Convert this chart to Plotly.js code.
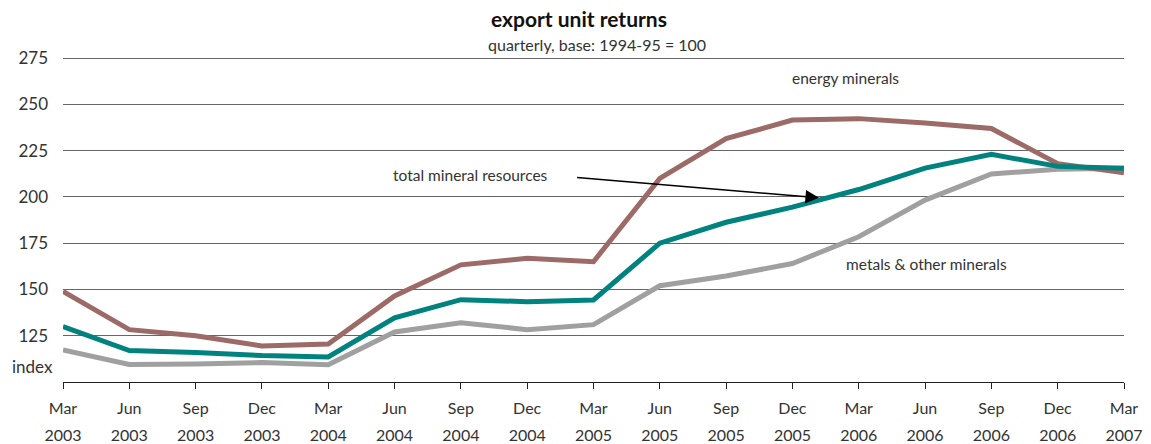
<!DOCTYPE html>
<html>
<head>
<meta charset="utf-8">
<script src="https://cdn.plot.ly/plotly-3.0.1.min.js"></script>
<style>html,body{margin:0;padding:0;background:#fff;}#chart{width:1151px;height:444px;}</style>
</head>
<body>
<div id="chart"></div>
<script>
const months = ["Mar","Jun","Sep","Dec","Mar","Jun","Sep","Dec","Mar","Jun","Sep","Dec","Mar","Jun","Sep","Dec","Mar"];
const years  = ["2003","2003","2003","2003","2004","2004","2004","2004","2005","2005","2005","2005","2006","2006","2006","2006","2007"];
const categories = months.map((m, i) => m + " " + years[i]);

const energyMinerals = [149, 128.3, 125, 119.5, 120.5, 146.5, 163.3, 166.8, 165, 210, 231.5, 241.5, 242.3, 240, 237, 218, 213];
const totalMineral   = [130, 117, 116, 114.3, 113.5, 134.7, 144.5, 143.4, 144.3, 175, 186.3, 194.5, 204, 215.6, 223, 216.5, 215.5];
const metalsOther    = [117.3, 109.5, 109.7, 110.5, 109.3, 127, 132, 128.3, 131, 152, 157.3, 164, 178.5, 198.3, 212.4, 215, 215.5];

const yTicks = [125, 150, 175, 200, 225, 250, 275];

const FONT = "Lato, 'Open Sans', sans-serif";
const TXT = "#333333";

const traces = [
  {x: categories, y: metalsOther, mode: "lines", line: {color: "#a0a0a0", width: 5}, hoverinfo: "skip"},
  {x: categories, y: energyMinerals, mode: "lines", line: {color: "#9c6a67", width: 5}, hoverinfo: "skip"},
  {x: categories, y: totalMineral, mode: "lines", line: {color: "#00827f", width: 5}, hoverinfo: "skip"},
  {x: categories, y: totalMineral, xaxis: "x2", mode: "lines", line: {width: 0, color: "rgba(0,0,0,0)"}, hoverinfo: "skip"}
];

const layout = {
  width: 1151, height: 444,
  margin: {l: 63, r: 27, t: 57, b: 62},
  paper_bgcolor: "#fff", plot_bgcolor: "#fff",
  showlegend: false,
  font: {family: FONT, color: TXT, size: 16},
  title: {text: "<b>export unit returns</b>", x: 0.503, xanchor: "center", y: 0.955, yanchor: "middle",
          font: {family: FONT, size: 21, color: "#111"}},
  xaxis: {
    type: "category", range: [0, 16],
    tickmode: "array", tickvals: categories, ticktext: months,
    ticks: "outside", ticklen: 6, tickcolor: "#222", tickwidth: 1,
    showline: true, linecolor: "#222", linewidth: 1,
    showgrid: false, zeroline: false,
    ticklabelstandoff: 6,
    tickfont: {family: FONT, size: 16, color: TXT}
  },
  xaxis2: {
    type: "category", range: [0, 16], overlaying: "x", anchor: "y", side: "bottom",
    tickmode: "array", tickvals: categories, ticktext: years,
    ticks: "", showline: false, showgrid: false, zeroline: false,
    ticklabelstandoff: 42,
    tickfont: {family: FONT, size: 16, color: TXT}
  },
  yaxis: {
    range: [100, 275.6],
    tickmode: "array", tickvals: yTicks, ticktext: yTicks.map(String),
    showgrid: true, gridcolor: "#666666", gridwidth: 1,
    zeroline: false, showline: false, ticks: "",
    ticklabelstandoff: 14,
    tickfont: {family: FONT, size: 17, color: TXT}
  },
  annotations: [
    {xref: "paper", yref: "paper", x: 0.503, y: 1.037, text: "quarterly, base: 1994-95 = 100", showarrow: false,
     xanchor: "center", yanchor: "middle", font: {family: FONT, size: 16, color: TXT}},
    {xref: "paper", yref: "y", x: -0.008, y: 108.5, text: "index", showarrow: false, xanchor: "right", yanchor: "middle",
     font: {family: FONT, size: 17, color: TXT}},
    {xref: "x", yref: "y", x: 11.8, y: 264.5, text: "energy minerals", showarrow: false, xanchor: "center", yanchor: "middle",
     font: {family: FONT, size: 15.5, color: TXT}},
    {xref: "x", yref: "y", x: 6.14, y: 212, text: "total mineral resources", showarrow: false, xanchor: "center", yanchor: "middle",
     font: {family: FONT, size: 15.5, color: TXT}},
    {xref: "x", yref: "y", x: 13.02, y: 163.8, text: "metals & other minerals", showarrow: false, xanchor: "center", yanchor: "middle",
     font: {family: FONT, size: 15.5, color: TXT}},
    {xref: "x", yref: "y", axref: "x", ayref: "y", x: 11.4, y: 199.5, ax: 7.73, ay: 210.5, text: "", showarrow: true,
     arrowhead: 2, arrowsize: 1.8, arrowwidth: 1.5, arrowcolor: "#000", standoff: 0}
  ]
};

Plotly.newPlot("chart", traces, layout, {displayModeBar: false, staticPlot: true});
</script>
</body>
</html>
